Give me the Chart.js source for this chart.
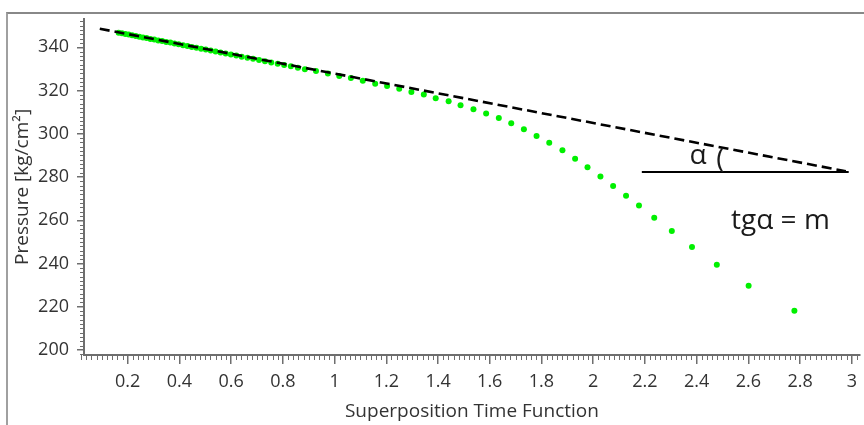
<!DOCTYPE html>
<html>
<head>
<meta charset="utf-8">
<script src="https://cdn.jsdelivr.net/npm/chart.js@4.4.1/dist/chart.umd.min.js"></script>
<style>
  html, body { margin: 0; padding: 0; background: #fff; }
  #wrap { position: relative; width: 864px; height: 425px; overflow: hidden; }
  #frame { position: absolute; left: 6px; top: 12px; width: 900px; height: 500px;
           border-left: 2px solid #a0a0a0; border-top: 2px solid #888; }
  canvas { position: absolute; left: 0; top: 0; }
</style>
</head>
<body>
<div id="wrap">
  <div id="frame"></div>
  <canvas id="chart" width="864" height="425"></canvas>
</div>
<script>
// superposition time function vs pressure
const stf = [
  0.165, 0.178, 0.191, 0.204, 0.217, 0.231, 0.245, 0.259, 0.273, 0.288,
  0.303, 0.318, 0.333, 0.349, 0.365, 0.381, 0.397, 0.414, 0.431, 0.448,
  0.466, 0.484, 0.502, 0.521, 0.540, 0.559, 0.579, 0.599, 0.620, 0.641,
  0.663, 0.685, 0.708, 0.731, 0.755, 0.780, 0.805, 0.831, 0.858, 0.885,
  0.928, 0.974, 1.018, 1.063, 1.109, 1.157, 1.203, 1.250, 1.297, 1.345,
  1.391, 1.441, 1.487, 1.537, 1.586, 1.635, 1.683, 1.732, 1.781, 1.830,
  1.881, 1.930, 1.978, 2.028, 2.077, 2.127, 2.177, 2.236, 2.304, 2.382,
  2.478, 2.601, 2.778
];
const pressure = [
  346.8, 346.5, 346.2, 345.9, 345.6, 345.3, 344.9, 344.6, 344.3, 343.9,
  343.6, 343.2, 342.9, 342.5, 342.2, 341.8, 341.4, 341.0, 340.6, 340.2,
  339.8, 339.4, 339.0, 338.5, 338.1, 337.6, 337.2, 336.7, 336.2, 335.7,
  335.2, 334.7, 334.2, 333.6, 333.0, 332.4, 331.8, 331.2, 330.6, 329.9,
  329.1, 327.9, 326.8, 325.8, 324.5, 323.2, 322.1, 320.8, 319.4, 318.2,
  316.5, 315.1, 313.2, 311.4, 309.4, 307.3, 304.9, 302.1, 299.0, 295.9,
  292.4, 288.5, 284.5, 280.3, 275.9, 271.4, 266.8, 261.2, 255.0, 247.7,
  239.4, 229.7, 218.2
];

// straight-line trend (dashed) and the horizontal reference
const trendX = [0.092, 2.977];
const trendY = [348.6, 282.7];
const baseX = [2.188, 2.988];
const baseY = [282.3, 282.3];

const xTicks = [0.2, 0.4, 0.6, 0.8, 1, 1.2, 1.4, 1.6, 1.8, 2, 2.2, 2.4, 2.6, 2.8, 3];
const yTicks = [200, 220, 240, 260, 280, 300, 320, 340];

const X_MIN = 0.031, X_MAX = 3.031;
const Y_MIN = 197.7, Y_MAX = 353.2;

const FONT = '"Open Sans", "Noto Sans", sans-serif';
const AXIS = '#6e6e6e';
const TEXT = '#333';

function toPoints(xs, ys) {
  return xs.map((x, i) => ({ x: x, y: ys[i] }));
}

// small ticks between the labelled ones, drawn on the library's scales
const minorTicks = {
  id: 'minorTicks',
  afterDraw(chart) {
    const ctx = chart.ctx;
    const xs = chart.scales.x, ys = chart.scales.y;
    const area = chart.chartArea;
    ctx.save();
    ctx.strokeStyle = AXIS;
    ctx.lineWidth = 1;
    ctx.beginPath();
    for (let i = 2; i <= 302; i += 2) {
      if (i % 20 === 0) continue;
      const px = Math.round(xs.getPixelForValue(i / 100)) + 0.5;
      if (px > area.right) break;
      ctx.moveTo(px, area.bottom);
      ctx.lineTo(px, area.bottom + 5);
    }
    for (let v = 198; v <= 352; v += 2) {
      if (v % 20 === 0) continue;
      const py = Math.round(ys.getPixelForValue(v)) + 0.5;
      ctx.moveTo(area.left, py);
      ctx.lineTo(area.left - 4, py);
    }
    ctx.stroke();
    ctx.restore();
  }
};

// the α angle mark and the slope note
const angleNote = {
  id: 'angleNote',
  afterDatasetsDraw(chart) {
    const ctx = chart.ctx;
    const xs = chart.scales.x, ys = chart.scales.y;
    ctx.save();
    ctx.fillStyle = '#1a1a1a';
    ctx.font = '28px ' + FONT;
    ctx.textBaseline = 'middle';
    ctx.textAlign = 'center';
    ctx.fillText('α', xs.getPixelForValue(2.405), ys.getPixelForValue(289.5));
    ctx.fillText('(', xs.getPixelForValue(2.492), ys.getPixelForValue(288));
    ctx.textAlign = 'left';
    ctx.fillText('tgα = m', xs.getPixelForValue(2.533), ys.getPixelForValue(259.5));
    ctx.restore();
  }
};

new Chart(document.getElementById('chart'), {
  type: 'scatter',
  data: {
    datasets: [
      {
        data: toPoints(trendX, trendY),
        showLine: true,
        borderColor: '#000',
        borderWidth: 2.6,
        borderDash: [10, 5],
        pointRadius: 0,
        order: 0
      },
      {
        data: toPoints(baseX, baseY),
        showLine: true,
        borderColor: '#000',
        borderWidth: 2,
        pointRadius: 0,
        order: 0
      },
      {
        data: toPoints(stf, pressure),
        backgroundColor: '#00f000',
        borderWidth: 0,
        pointRadius: 3,
        order: 1
      }
    ]
  },
  options: {
    responsive: false,
    animation: false,
    layout: { padding: { top: 13, right: 0, left: 0, bottom: 0 } },
    plugins: { legend: { display: false }, tooltip: { enabled: false } },
    scales: {
      x: {
        type: 'linear',
        min: X_MIN,
        max: X_MAX,
        afterBuildTicks: s => { s.ticks = xTicks.map(v => ({ value: v })); },
        afterFit: s => { s.height = 70; },
        ticks: {
          font: { family: FONT, size: 18 },
          color: TEXT,
          padding: 7,
          maxRotation: 0,
          autoSkip: false,
          callback: v => String(Number(v.toFixed(1)))
        },
        grid: { drawOnChartArea: false, tickLength: 9, color: AXIS, lineWidth: 1.5 },
        border: { color: AXIS, width: 2 },
        title: {
          display: true,
          text: 'Superposition Time Function',
          font: { family: FONT, size: 19 },
          color: TEXT,
          padding: { top: 0, bottom: 2 }
        }
      },
      y: {
        type: 'linear',
        min: Y_MIN,
        max: Y_MAX,
        afterBuildTicks: s => { s.ticks = yTicks.map(v => ({ value: v })); },
        afterFit: s => { s.width = 84; },
        ticks: {
          font: { family: FONT, size: 18 },
          color: TEXT,
          padding: 8,
          callback: v => String(v)
        },
        grid: { drawOnChartArea: false, tickLength: 7, color: AXIS, lineWidth: 1.5 },
        border: { color: AXIS, width: 2 },
        title: {
          display: true,
          text: 'Pressure [kg/cm²]',
          font: { family: FONT, size: 19 },
          color: TEXT,
          padding: { top: 11, bottom: 0 }
        }
      }
    }
  },
  plugins: [minorTicks, angleNote]
});
</script>
</body>
</html>
